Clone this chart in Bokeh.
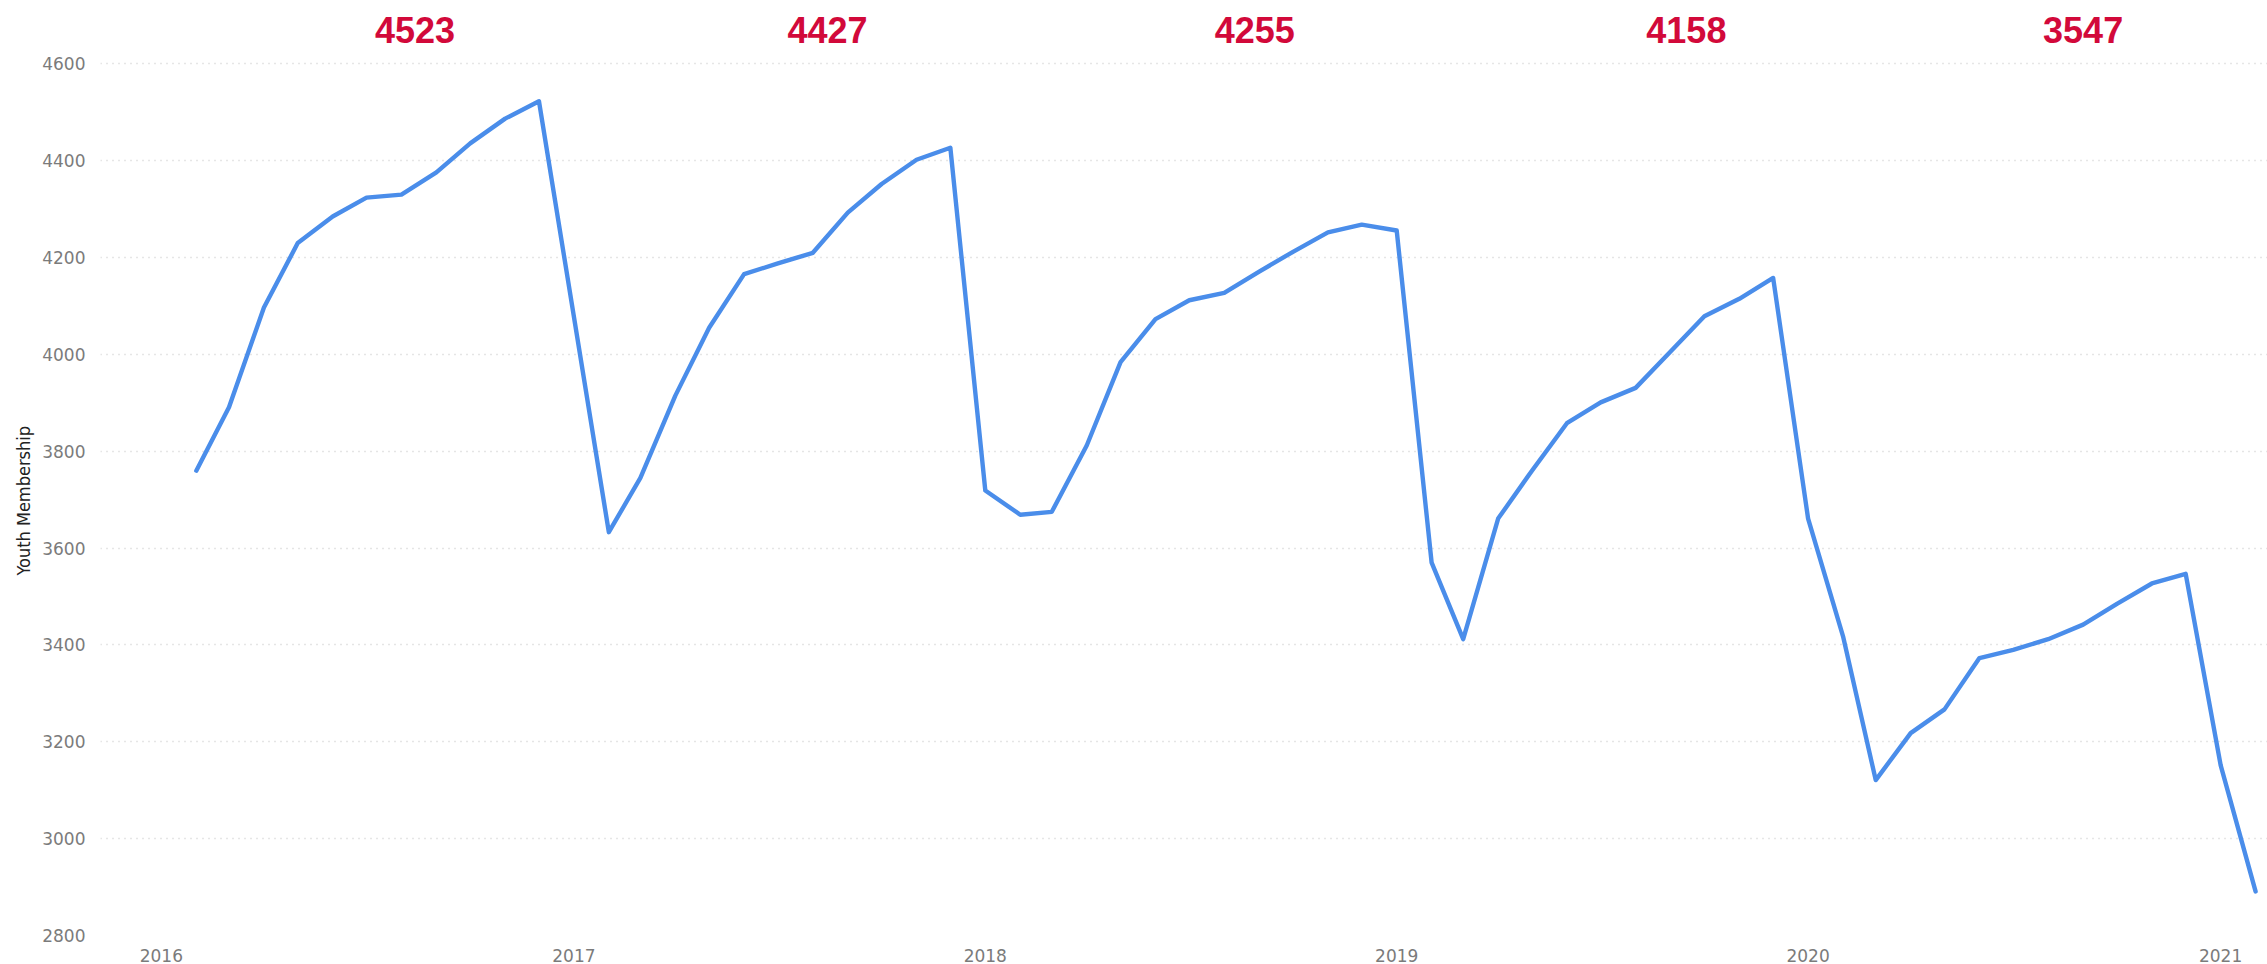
from datetime import datetime
from bokeh.plotting import figure
from bokeh.models import FixedTicker, DatetimeTickFormatter, Range1d, ColumnDataSource, Title
from bokeh.core.properties import value
from bokeh.embed import file_html
from bokeh.resources import INLINE

# ---- data ----
membership_2016 = [3760, 3891, 4097, 4230, 4285, 4324, 4330, 4376, 4436, 4487, 4523]          # Feb..Dec
membership_2017 = [4078, 3633, 3745, 3915, 4055, 4166, 4188, 4210, 4293, 4352, 4402, 4427]    # Jan..Dec
membership_2018 = [3719, 3669, 3675, 3812, 3984, 4073, 4112, 4127, 4171, 4212, 4252, 4268]
membership_2019 = [4256, 3570, 3412, 3661, 3760, 3858, 3901, 3931, 4006, 4079, 4115, 4158]
membership_2020 = [3661, 3418, 3121, 3218, 3267, 3373, 3390, 3412, 3442, 3485, 3527, 3547]
membership_2021 = [3152, 2891]                                                                 # Jan..Feb

year_ticks = [2016, 2017, 2018, 2019, 2020, 2021]
peak_years = [2016, 2017, 2018, 2019, 2020]
peak_labels = ["4523", "4427", "4255", "4158", "3547"]
y_tick_values = [2800, 3000, 3200, 3400, 3600, 3800, 4000, 4200, 4400, 4600]
y_title = "Youth Membership"

# ---- build monthly series ----
series = [(2016, 2, membership_2016), (2017, 1, membership_2017), (2018, 1, membership_2018),
          (2019, 1, membership_2019), (2020, 1, membership_2020), (2021, 1, membership_2021)]
dates, values = [], []
for yr, m0, vals in series:
    for i, v in enumerate(vals):
        dates.append(datetime(yr, m0 + i, 1))
        values.append(v)

src = ColumnDataSource(dict(date=dates, membership=values))

x_start = datetime(2015, 11, 8)
x_end = datetime(2021, 2, 11, 14)

p = figure(width=2267, height=964, x_axis_type="datetime",
           x_range=Range1d(x_start, x_end), y_range=Range1d(2800, 4731),
           output_backend="svg", toolbar_location=None,
           min_border_left=100, min_border_right=0, min_border_top=0, min_border_bottom=27)

p.outline_line_color = None
p.background_fill_color = "white"
p.border_fill_color = "white"

p.line("date", "membership", source=src, line_color="#4A8DEA", line_width=4.4,
       line_join="round", line_cap="round")

# peak annotations
anchor_dates = [datetime(2016, 8, 13), datetime(2017, 8, 14), datetime(2018, 8, 28),
                datetime(2019, 9, 15), datetime(2020, 9, 1)]
ann = ColumnDataSource(dict(x=anchor_dates, y=[4671] * len(peak_labels), t=peak_labels))
p.text(x="x", y="y", text="t", source=ann,
       text_font=value("Liberation Sans"),
       text_font_style="bold", text_font_size="36px", text_color="#D2093A",
       text_align="center", text_baseline="middle")

# y-axis title (outside the tick labels)
ytitle = Title(text=y_title, align="left", offset=360, standoff=12,
               text_font="DejaVu Sans Condensed", text_font_size="18px",
               text_font_style="normal", text_color="#222222")
p.add_layout(ytitle, "left")

# x axis
p.xaxis.ticker = FixedTicker(ticks=[datetime(y, 1, 1).timestamp() * 1000 for y in year_ticks])
p.xaxis.formatter = DatetimeTickFormatter(years="%Y", months="%Y", days="%Y")
p.xaxis.axis_line_color = None
p.xaxis.major_tick_line_color = None
p.xaxis.minor_tick_line_color = None
p.xaxis.major_label_standoff = 7
p.xaxis.major_label_text_font = "DejaVu Sans"
p.xaxis.major_label_text_font_size = "17px"
p.xaxis.major_label_text_color = "#7b7b7b"

# y axis
p.yaxis.ticker = FixedTicker(ticks=y_tick_values)
p.yaxis.axis_line_color = None
p.yaxis.major_tick_line_color = None
p.yaxis.minor_tick_line_color = None
p.yaxis.major_label_standoff = 9
p.yaxis.major_label_text_font = "DejaVu Sans"
p.yaxis.major_label_text_font_size = "17px"
p.yaxis.major_label_text_color = "#7b7b7b"

p.xgrid.grid_line_color = None
p.ygrid.grid_line_color = "#cccccc"
p.ygrid.grid_line_dash = "1 5"
p.ygrid.grid_line_width = 1.4

open("out.html", "w").write(file_html(p, INLINE))
